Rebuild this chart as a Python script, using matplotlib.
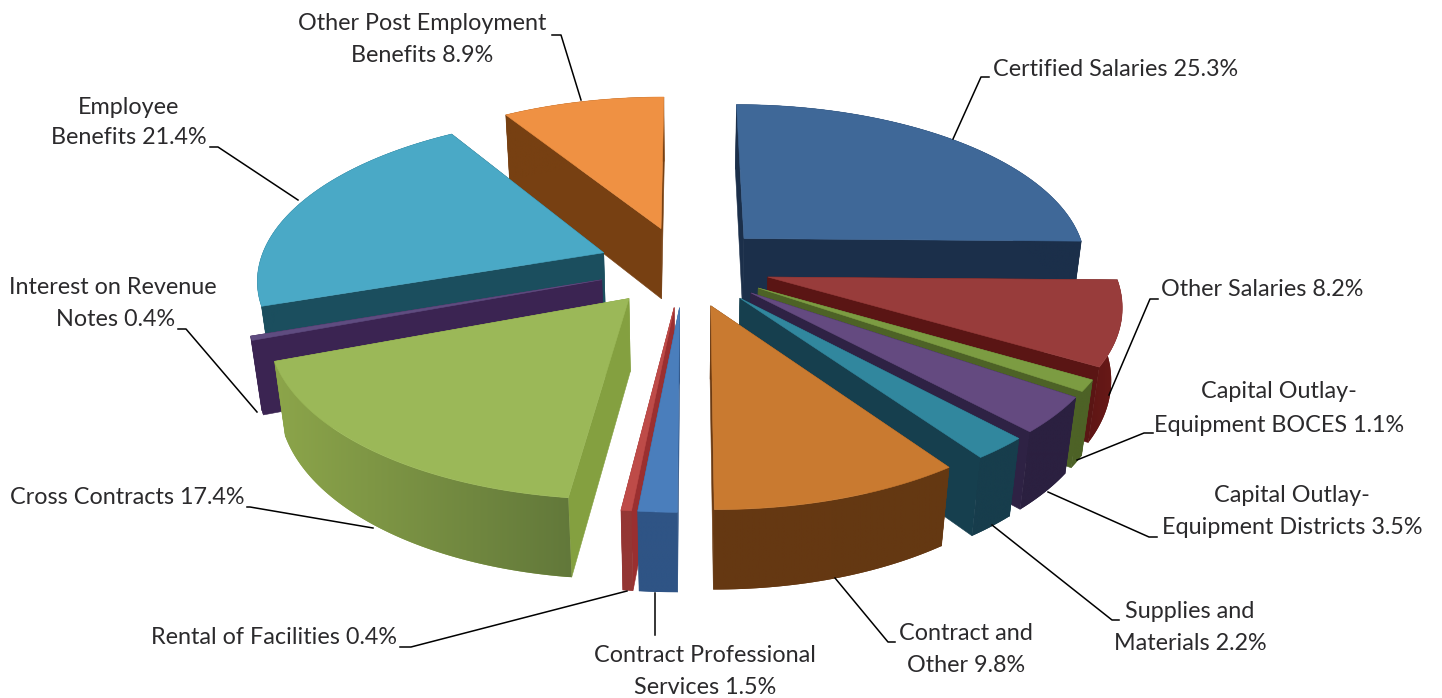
import numpy as np
import matplotlib
matplotlib.use('Agg')
import matplotlib.pyplot as plt
from matplotlib.colors import LinearSegmentedColormap
from matplotlib.patches import Polygon

# slices, clockwise from twelve o'clock
categories = ['Certified Salaries', 'Other Salaries', 'Capital Outlay-Equipment BOCES',
              'Capital Outlay-Equipment Districts', 'Supplies and Materials',
              'Contract and Other', 'Contract Professional Services', 'Rental of Facilities',
              'Cross Contracts', 'Interest on Revenue Notes', 'Employee Benefits',
              'Other Post Employment Benefits']
values = [25.3, 8.2, 1.1, 3.5, 2.2, 9.8, 1.5, 0.4, 17.4, 0.4, 21.4, 8.9]

top_colors = ['#3F6898', '#983C3B', '#7C9C42', '#644A80', '#31879E', '#C97A30',
              '#4A7EBC', '#BE4B48', '#9BB858', '#5F4C80', '#4AA9C6', '#EF9143']
cut_colors = ['#1B2F4A', '#5A1514', '#4D6226', '#2E2244', '#163F4E', '#6B3A12',
              '#2F5485', '#9A2F30', '#84A040', '#3B2452', '#1B4E5E', '#774012']
rim_left = ['#1B2F4A', '#5E1615', '#4D6226', '#2B2040', '#173D4C', '#663812',
            '#2F5485', '#943634', '#8CA54A', '#3B2452', '#1B4E5E', '#774012']
rim_right = ['#1B2F4A', '#6C1A18', '#4D6226', '#2B2040', '#173D4C', '#643812',
             '#2F5485', '#943634', '#62783A', '#3B2452', '#1B4E5E', '#774012']

# back slices first so the nearer ones cover them
draw_order = [0, 1, 2, 3, 4, 5, 11, 10, 9, 8, 7, 6]

# pie geometry on screen
cx, cy = 684, 266
rx, ry = 345, 161
persp = 0.1465
explode = 0.25
drop_h = 73.5
drop_q = 0.025

text_color = '#2B2A2C'
font = dict(family='Lato', fontsize=16.8, color=text_color)

# text: (x, y, ha, string)
labels = [
    (993, 70, 'left', 'Certified Salaries 25.3%'),
    (1161, 290, 'left', 'Other Salaries 8.2%'),
    (1279, 392, 'center', 'Capital Outlay-'),
    (1279, 425, 'center', 'Equipment BOCES 1.1%'),
    (1292, 496, 'center', 'Capital Outlay-'),
    (1292, 528, 'center', 'Equipment Districts 3.5%'),
    (1190, 612, 'center', 'Supplies and'),
    (1190, 643, 'center', 'Materials 2.2%'),
    (966, 634, 'center', 'Contract and'),
    (966, 666, 'center', 'Other 9.8%'),
    (705, 655, 'center', 'Contract Professional'),
    (705, 687, 'center', 'Services 1.5%'),
    (274, 638, 'center', 'Rental of Facilities 0.4%'),
    (127, 498, 'center', 'Cross Contracts 17.4%'),
    (113, 288, 'center', 'Interest on Revenue'),
    (116, 320, 'center', 'Notes 0.4%'),
    (129, 107, 'center', 'Employee'),
    (129, 138, 'center', 'Benefits 21.4%'),
    (422, 23, 'center', 'Other Post Employment'),
    (422, 55, 'center', 'Benefits 8.9%'),
]

leaders = [
    [(953, 139), (981, 77), (989, 77)],
    [(1109, 395), (1150, 299), (1158, 299)],
    [(1077, 460), (1144, 433), (1153, 433)],
    [(1048, 492), (1149, 537), (1157, 537)],
    [(992, 525), (1112, 620), (1119, 620)],
    [(835, 578), (888, 642), (895, 642)],
    [(655, 593), (655, 635)],
    [(627, 591), (411, 647), (400, 647)],
    [(373, 528), (250, 507), (247, 507)],
    [(257, 412), (186, 329), (178, 329)],
    [(298, 200), (218, 147), (210, 147)],
    [(581, 100), (561, 35), (552, 35)],
]


def project(x, y, low=False):
    w = 1 - persp * y
    if low:
        return cx + rx * x / (w + drop_q), cy + (ry * y + drop_h) / (w + drop_q)
    return cx + rx * x / w, cy + ry * y / w


def cut_face(ax, p1, p2, color):
    # wall between two top points, running down to the bottom plane
    x1, y1 = project(*p1)
    x2, y2 = project(*p2)
    x3, y3 = project(*p2, low=True)
    x4, y4 = project(*p1, low=True)
    ax.fill([x1, x2, x3, x4], [y1, y2, y3, y4], color=color, lw=0.4, zorder=2)


def rim_wall(ax, rim, i):
    # outer wall as one outline, filled with a left to right shade
    tx, ty = project(rim[:, 0], rim[:, 1])
    bx, by = project(rim[:, 0], rim[:, 1], low=True)
    xs = np.concatenate([tx, bx[::-1]])
    ys = np.concatenate([ty, by[::-1]])
    shape = Polygon(np.column_stack([xs, ys]), closed=True, fc=rim_left[i], ec='none',
                    zorder=2, transform=ax.transData)
    ax.add_patch(shape)
    cmap = LinearSegmentedColormap.from_list('rim', [rim_left[i], rim_right[i]])
    img = ax.imshow(np.linspace(0, 1, 256)[None, :], cmap=cmap, aspect='auto', zorder=2,
                    extent=[xs.min(), xs.max(), ys.max(), ys.min()])
    img.set_clip_path(shape)


def draw_slice(ax, a0, a1, i):
    mid = (a0 + a1) / 2
    ax0, ay0 = explode * np.sin(mid), -explode * np.cos(mid)
    t = np.linspace(a0, a1, max(int((a1 - a0) * 60), 3))
    rim = np.column_stack([ax0 + np.sin(t), ay0 - np.cos(t)])
    apex = (ax0, ay0)

    # the cut faces, farther one first
    ends = sorted([rim[0], rim[-1]], key=lambda p: p[1])
    for p in ends:
        cut_face(ax, apex, tuple(p), cut_colors[i])

    rim_wall(ax, rim, i)

    pts = np.vstack([apex, rim])
    px, py = project(pts[:, 0], pts[:, 1])
    ax.fill(px, py, color=top_colors[i], lw=0.4, zorder=2)


fig = plt.figure(figsize=(14.42, 6.98), dpi=100)
ax = fig.add_axes([0, 0, 1, 1])
ax.axis('off')

edges = np.cumsum([0] + values) / sum(values) * 2 * np.pi
for i in draw_order:
    draw_slice(ax, edges[i], edges[i + 1], i)

for line in leaders:
    ax.plot([p[0] for p in line], [p[1] for p in line], color='black', lw=1.1, zorder=3)

for x, y, ha, s in labels:
    ax.text(x, y, s, ha=ha, va='center', zorder=4, **font)

ax.set_xlim(0, 1442)
ax.set_ylim(698, 0)

fig.savefig('out.png', dpi=100)
